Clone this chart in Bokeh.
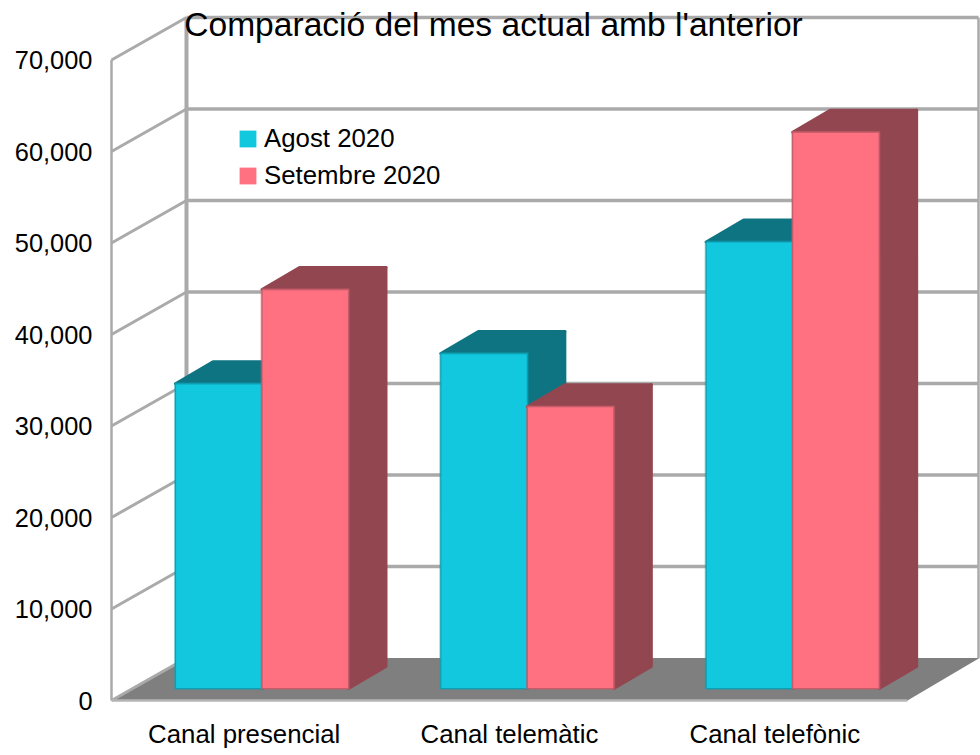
from bokeh.plotting import figure
from bokeh.models import Range1d, FixedTicker, Legend, LegendItem, Label, NumeralTickFormatter
from bokeh.embed import file_html
from bokeh.resources import INLINE

TITLE = "Comparació del mes actual amb l'anterior"
categories = ["Canal presencial", "Canal telemàtic", "Canal telefònic"]
series_names = ["Agost 2020", "Setembre 2020"]
agost = [33300, 36600, 48800]
setembre = [43600, 30800, 60800]
y_ticks = [0, 10000, 20000, 30000, 40000, 50000, 60000, 70000]

# layout (pixels)
W, H = 980, 755
FL, FB = 100, 712          # frame left, frame bottom
X0, XN = 111, 907          # front plane extent
Y0, YT = 700, 59.5         # pixel of 0 and of 70,000 on the front plane
KX = (XN - X0) / len(categories)
KY = (Y0 - YT) / y_ticks[-1]
def dx(px): return px / KX
def dy(px): return px / KY

WALL_X, WALL_Y = dx(75), dy(42.5)
BAR_W = dx(86.5)
BAR_X = dx(64)
BAR_LIFT = dy(12)
DEPTH_X, DEPTH_Y = dx(37.5), dy(22)
WALL_R = len(categories) + dx(71)

CYAN, RED = "#12c8df", "#ff7080"
CYAN_D, RED_D = "#0e7482", "#924650"
CYAN_E, RED_E = "#0f9fb2", "#c45c69"
GRID = "#aaaaaa"
FONT = "Liberation Sans"
FS = "25.4px"
FS2 = "25.8px"

p = figure(frame_width=W - FL, frame_height=FB, width=W, height=H,
           x_range=Range1d(dx(FL - X0), dx(W - X0)),
           y_range=Range1d(dy(Y0 - FB), dy(Y0)),
           output_backend="svg", toolbar_location=None,
           min_border_left=FL, min_border_right=0, min_border_top=0, min_border_bottom=H - FB,
           margin=0)
p.outline_line_color = None
p.grid.visible = False
p.background_fill_color = "white"

# axes
p.yaxis.ticker = FixedTicker(ticks=y_ticks)
p.yaxis.formatter = NumeralTickFormatter(format="0,0")
p.xaxis.ticker = FixedTicker(ticks=[i + 0.5 for i in range(len(categories))])
p.xaxis.major_label_overrides = {i + 0.5: c for i, c in enumerate(categories)}
for ax in (p.xaxis, p.yaxis):
    ax.axis_line_color = None
    ax.major_tick_line_color = None
    ax.minor_tick_line_color = None
    ax.major_tick_out = 0
    ax.major_tick_in = 0
    ax.minor_tick_out = 0
    ax.major_label_text_font = FONT
    ax.major_label_text_color = "black"
p.yaxis.major_label_text_font_size = FS
p.xaxis.major_label_text_font_size = FS2
p.yaxis.major_label_standoff = 8
p.xaxis.major_label_standoff = 7

n = len(categories)
# floor
p.patch([0, WALL_X, WALL_R + dx(1), n], [0, WALL_Y, WALL_Y, 0], fill_color="#7f7f7f", line_color=None)

# gridlines: side wall + back wall
for v in y_ticks:
    p.line([0, WALL_X], [v, v + WALL_Y], line_color=GRID, line_width=3)
    if v:
        p.line([WALL_X, WALL_R], [v + WALL_Y, v + WALL_Y], line_color=GRID, line_width=3.5)
top = y_ticks[-1]
p.line([0, 0], [0, top], line_color=GRID, line_width=2.5)
p.line([WALL_X, WALL_X], [WALL_Y, top + WALL_Y], line_color=GRID, line_width=4)
p.line([WALL_R, WALL_R], [WALL_Y, top + WALL_Y], line_color=GRID, line_width=2.5)
p.line([0, n], [0, 0], line_color="#b5b5b5", line_width=2.5)

# bars
for i in range(n):
    for j, (vals, fc, dc, ec) in enumerate(((agost, CYAN, CYAN_D, CYAN_E), (setembre, RED, RED_D, RED_E))):
        l = i + BAR_X + j * BAR_W
        r = l + BAR_W
        t = vals[i] + BAR_LIFT
        b = BAR_LIFT
        p.patch([l, r, r + DEPTH_X, l + DEPTH_X], [t, t, t + DEPTH_Y, t + DEPTH_Y],
                fill_color=dc, line_color=dc, line_width=3, line_join="round")
        p.patch([r, r + DEPTH_X, r + DEPTH_X, r], [t, t + DEPTH_Y, b + DEPTH_Y, b],
                fill_color=dc, line_color=dc, line_width=3, line_join="round")
        p.quad(left=l, right=r, top=t, bottom=b, fill_color=None, line_color=ec, line_alpha=0.45,
               line_width=3, line_join="round")
        p.quad(left=l, right=r, top=t, bottom=b, fill_color=fc, line_color=ec,
               line_width=1.2, line_join="round")

# legend swatches (no bar outline in the reference's key)
nan = float("nan")
key_a = p.quad(left=[nan], right=[nan], top=[nan], bottom=[nan], fill_color=CYAN, line_color=None)
key_s = p.quad(left=[nan], right=[nan], top=[nan], bottom=[nan], fill_color=RED, line_color=None)
leg = Legend(items=[LegendItem(label=s, renderers=[r]) for s, r in zip(series_names, [key_a, key_s])],
             location=(137, FB - 190), orientation="vertical",
             glyph_width=21, glyph_height=21, spacing=8, padding=0, margin=0,
             label_standoff=6, label_text_font=FONT, label_text_font_size=FS2,
             label_text_color="black", border_line_color=None, background_fill_color=None,
             label_height=17)
p.add_layout(leg)

# title, overlapping the plot as in the reference
p.add_layout(Label(x=393, y=FB - 24, x_units="screen", y_units="screen", text=TITLE,
                   text_font=FONT, text_font_size="33.6px", text_color="black",
                   text_align="center", text_baseline="middle"))

open("out.html", "w").write(file_html(p, INLINE))
